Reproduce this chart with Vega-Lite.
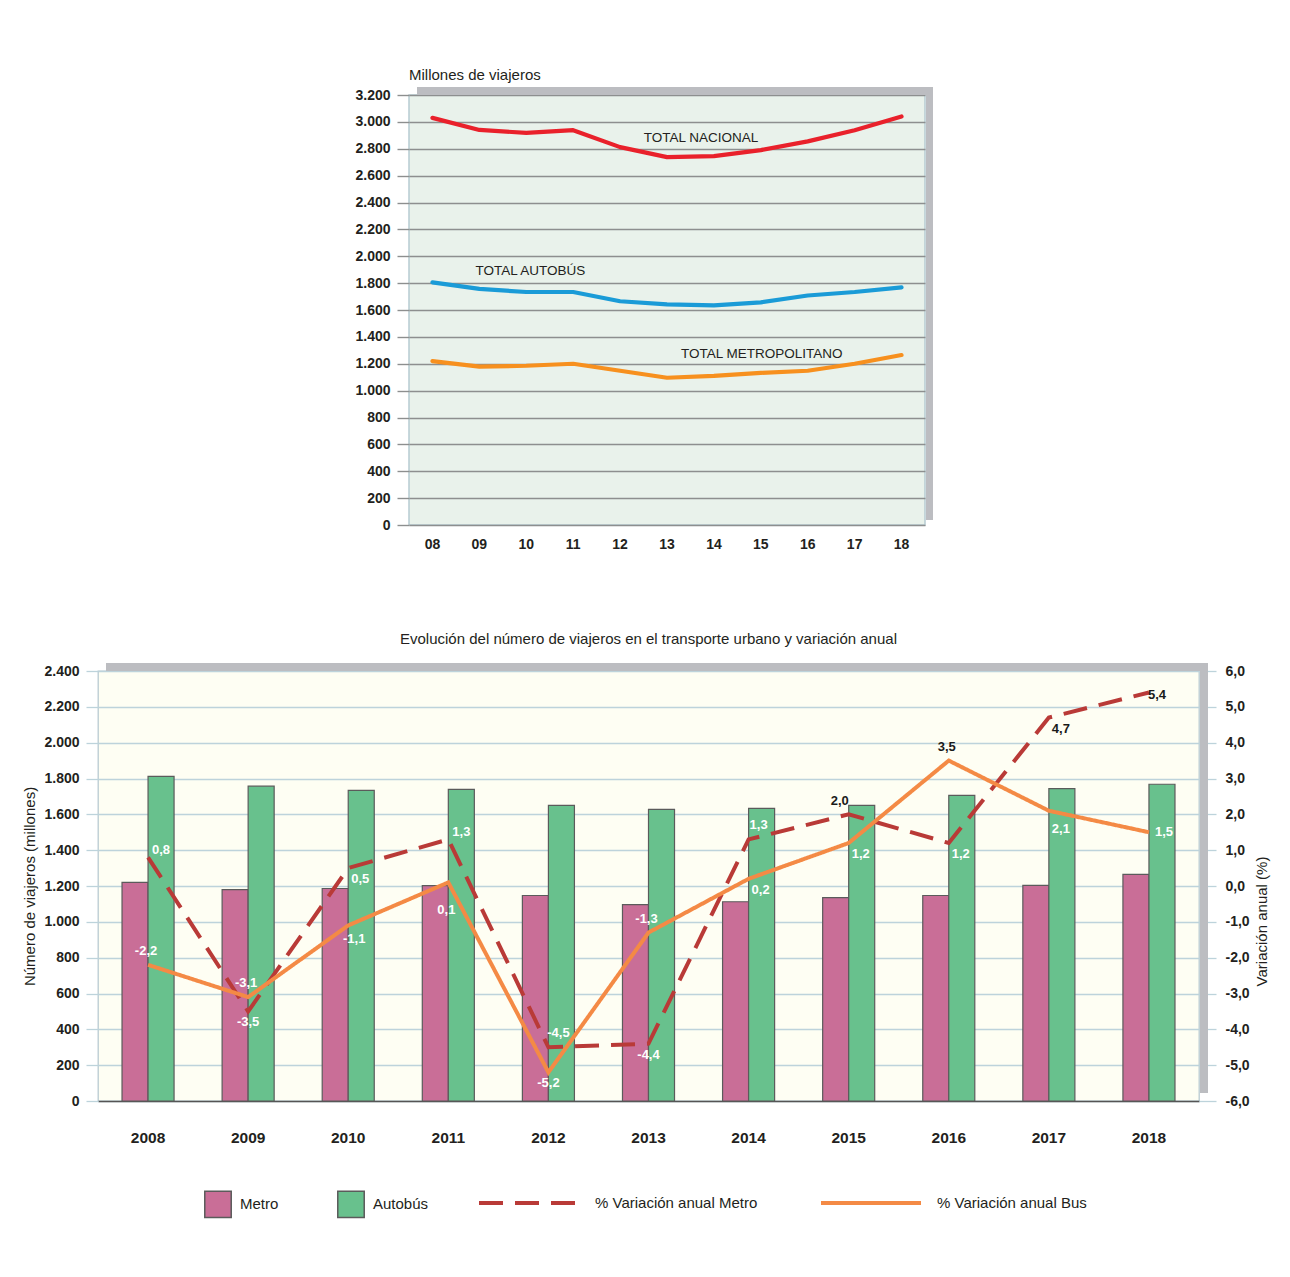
{
  "$schema": "https://vega.github.io/schema/vega-lite/v6.json",
  "background": "white",
  "padding": {"left": 22, "top": 67, "right": 10, "bottom": 10},
  "spacing": 79,
  "datasets": {
    "totales": [
      {"yy": "08", "serie": "TOTAL NACIONAL", "valor": 3030},
      {"yy": "09", "serie": "TOTAL NACIONAL", "valor": 2940},
      {"yy": "10", "serie": "TOTAL NACIONAL", "valor": 2918},
      {"yy": "11", "serie": "TOTAL NACIONAL", "valor": 2938},
      {"yy": "12", "serie": "TOTAL NACIONAL", "valor": 2812},
      {"yy": "13", "serie": "TOTAL NACIONAL", "valor": 2738},
      {"yy": "14", "serie": "TOTAL NACIONAL", "valor": 2745},
      {"yy": "15", "serie": "TOTAL NACIONAL", "valor": 2790},
      {"yy": "16", "serie": "TOTAL NACIONAL", "valor": 2855},
      {"yy": "17", "serie": "TOTAL NACIONAL", "valor": 2938},
      {"yy": "18", "serie": "TOTAL NACIONAL", "valor": 3040},
      {"yy": "08", "serie": "TOTAL AUTOBÚS", "valor": 1806},
      {"yy": "09", "serie": "TOTAL AUTOBÚS", "valor": 1757},
      {"yy": "10", "serie": "TOTAL AUTOBÚS", "valor": 1734},
      {"yy": "11", "serie": "TOTAL AUTOBÚS", "valor": 1734},
      {"yy": "12", "serie": "TOTAL AUTOBÚS", "valor": 1665},
      {"yy": "13", "serie": "TOTAL AUTOBÚS", "valor": 1642},
      {"yy": "14", "serie": "TOTAL AUTOBÚS", "valor": 1635},
      {"yy": "15", "serie": "TOTAL AUTOBÚS", "valor": 1657},
      {"yy": "16", "serie": "TOTAL AUTOBÚS", "valor": 1708},
      {"yy": "17", "serie": "TOTAL AUTOBÚS", "valor": 1734},
      {"yy": "18", "serie": "TOTAL AUTOBÚS", "valor": 1768},
      {"yy": "08", "serie": "TOTAL METROPOLITANO", "valor": 1220},
      {"yy": "09", "serie": "TOTAL METROPOLITANO", "valor": 1178},
      {"yy": "10", "serie": "TOTAL METROPOLITANO", "valor": 1185},
      {"yy": "11", "serie": "TOTAL METROPOLITANO", "valor": 1200},
      {"yy": "12", "serie": "TOTAL METROPOLITANO", "valor": 1148},
      {"yy": "13", "serie": "TOTAL METROPOLITANO", "valor": 1096},
      {"yy": "14", "serie": "TOTAL METROPOLITANO", "valor": 1110},
      {"yy": "15", "serie": "TOTAL METROPOLITANO", "valor": 1132},
      {"yy": "16", "serie": "TOTAL METROPOLITANO", "valor": 1148},
      {"yy": "17", "serie": "TOTAL METROPOLITANO", "valor": 1200},
      {"yy": "18", "serie": "TOTAL METROPOLITANO", "valor": 1265}
    ],
    "viajeros": [
      {"year": "2008", "tipo": "Metro", "valor": 1220},
      {"year": "2009", "tipo": "Metro", "valor": 1180},
      {"year": "2010", "tipo": "Metro", "valor": 1186},
      {"year": "2011", "tipo": "Metro", "valor": 1202},
      {"year": "2012", "tipo": "Metro", "valor": 1147},
      {"year": "2013", "tipo": "Metro", "valor": 1096},
      {"year": "2014", "tipo": "Metro", "valor": 1112},
      {"year": "2015", "tipo": "Metro", "valor": 1135},
      {"year": "2016", "tipo": "Metro", "valor": 1147},
      {"year": "2017", "tipo": "Metro", "valor": 1203},
      {"year": "2018", "tipo": "Metro", "valor": 1265},
      {"year": "2008", "tipo": "Autobús", "valor": 1812},
      {"year": "2009", "tipo": "Autobús", "valor": 1757},
      {"year": "2010", "tipo": "Autobús", "valor": 1734},
      {"year": "2011", "tipo": "Autobús", "valor": 1739},
      {"year": "2012", "tipo": "Autobús", "valor": 1650},
      {"year": "2013", "tipo": "Autobús", "valor": 1628},
      {"year": "2014", "tipo": "Autobús", "valor": 1633},
      {"year": "2015", "tipo": "Autobús", "valor": 1650},
      {"year": "2016", "tipo": "Autobús", "valor": 1706},
      {"year": "2017", "tipo": "Autobús", "valor": 1744},
      {"year": "2018", "tipo": "Autobús", "valor": 1768}
    ],
    "variacion": [
      {"year": "2008", "linea": "% Variación anual Metro", "pct": 0.8},
      {"year": "2009", "linea": "% Variación anual Metro", "pct": -3.5},
      {"year": "2010", "linea": "% Variación anual Metro", "pct": 0.5},
      {"year": "2011", "linea": "% Variación anual Metro", "pct": 1.3},
      {"year": "2012", "linea": "% Variación anual Metro", "pct": -4.5},
      {"year": "2013", "linea": "% Variación anual Metro", "pct": -4.4},
      {"year": "2014", "linea": "% Variación anual Metro", "pct": 1.3},
      {"year": "2015", "linea": "% Variación anual Metro", "pct": 2.0},
      {"year": "2016", "linea": "% Variación anual Metro", "pct": 1.2},
      {"year": "2017", "linea": "% Variación anual Metro", "pct": 4.7},
      {"year": "2018", "linea": "% Variación anual Metro", "pct": 5.4},
      {"year": "2008", "linea": "% Variación anual Bus", "pct": -2.2},
      {"year": "2009", "linea": "% Variación anual Bus", "pct": -3.1},
      {"year": "2010", "linea": "% Variación anual Bus", "pct": -1.1},
      {"year": "2011", "linea": "% Variación anual Bus", "pct": 0.1},
      {"year": "2012", "linea": "% Variación anual Bus", "pct": -5.2},
      {"year": "2013", "linea": "% Variación anual Bus", "pct": -1.3},
      {"year": "2014", "linea": "% Variación anual Bus", "pct": 0.2},
      {"year": "2015", "linea": "% Variación anual Bus", "pct": 1.2},
      {"year": "2016", "linea": "% Variación anual Bus", "pct": 3.5},
      {"year": "2017", "linea": "% Variación anual Bus", "pct": 2.1},
      {"year": "2018", "linea": "% Variación anual Bus", "pct": 1.5}
    ]
  },
  "vconcat": [
    {
      "spacing": 0,
      "hconcat": [
        {
          "width": 256,
          "height": 10,
          "view": {"stroke": null, "fill": null},
          "data": {"values": []},
          "mark": {"type": "point", "opacity": 0},
          "encoding": {}
        },
        {
          "width": 516,
          "height": 430,
          "title": {"text": "Millones de viajeros", "anchor": "start", "frame": "group", "fontSize": 15, "fontWeight": "normal", "font": "Liberation Sans", "color": "#231f20", "offset": 4},
          "view": {"fill": "#e9f2eb", "stroke": "#b7cbd2", "strokeWidth": 1.5},
          "layer": [
            {
              "data": {"values": [{}]},
              "mark": {"type": "rect", "fill": "#bcbdc1", "xOffset": 8, "x2Offset": 8, "yOffset": -8},
              "encoding": {"x": {"value": 0}, "x2": {"value": "width"}, "y": {"value": 0}, "y2": {"value": 0}}
            },
            {
              "data": {"values": [{}]},
              "mark": {"type": "rect", "fill": "#bcbdc1", "xOffset": 1, "x2Offset": 8, "yOffset": -8, "y2Offset": -5},
              "encoding": {"x": {"value": "width"}, "x2": {"value": "width"}, "y": {"value": 0}, "y2": {"value": "height"}}
            },
            {
              "data": {"name": "totales"},
              "mark": {"type": "line", "strokeWidth": 4.2, "strokeJoin": "round", "strokeCap": "round"},
              "encoding": {
                "x": {"field": "yy", "type": "ordinal", "scale": {"type": "band", "paddingInner": 0, "paddingOuter": 0},
                      "axis": {"title": null, "ticks": false, "domain": false, "grid": false, "labelAngle": 0, "labelPadding": 12, "labelFontSize": 14, "labelFontWeight": "bold"}},
                "y": {"field": "valor", "type": "quantitative", "scale": {"domain": [0, 3200], "nice": false},
                      "axis": {"title": null, "values": [0, 200, 400, 600, 800, 1000, 1200, 1400, 1600, 1800, 2000, 2200, 2400, 2600, 2800, 3000, 3200], "tickCount": 40, "format": ",d", "labelOverlap": false, "grid": true, "gridColor": "#8d8f8f", "gridWidth": 1.4, "tickColor": "#8d8f8f", "tickSize": 12, "tickWidth": 1.4, "domain": false, "labelPadding": 7, "labelFontSize": 14, "labelFontWeight": "bold"}},
                "color": {"field": "serie", "type": "nominal", "scale": {"domain": ["TOTAL NACIONAL", "TOTAL AUTOBÚS", "TOTAL METROPOLITANO"], "range": ["#e9212b", "#1a9bd7", "#f7901e"]}, "legend": null}
              }
            },
            {
              "data": {"values": [{}]},
              "mark": {"type": "text", "font": "Liberation Sans", "fontWeight": "normal", "fontSize": 13.5, "color": "#231f20", "dx": -13},
              "encoding": {"x": {"datum": "14", "type": "ordinal"}, "y": {"datum": 2878, "type": "quantitative"}, "text": {"value": "TOTAL NACIONAL"}}
            },
            {
              "data": {"values": [{}]},
              "mark": {"type": "text", "font": "Liberation Sans", "fontWeight": "normal", "fontSize": 13.5, "color": "#231f20", "dx": 4},
              "encoding": {"x": {"datum": "10", "type": "ordinal"}, "y": {"datum": 1887, "type": "quantitative"}, "text": {"value": "TOTAL AUTOBÚS"}}
            },
            {
              "data": {"values": [{}]},
              "mark": {"type": "text", "font": "Liberation Sans", "fontWeight": "normal", "fontSize": 13.5, "color": "#231f20", "dx": 1},
              "encoding": {"x": {"datum": "15", "type": "ordinal"}, "y": {"datum": 1275, "type": "quantitative"}, "text": {"value": "TOTAL METROPOLITANO"}}
            }
          ]
        }
      ]
    },
    {
      "width": 1101,
      "height": 430,
      "title": {"text": "Evolución del número de viajeros en el transporte urbano y variación anual", "anchor": "middle", "frame": "group", "fontSize": 15, "fontWeight": "normal", "font": "Liberation Sans", "color": "#231f20", "offset": 16},
      "view": {"fill": "#fefef3", "stroke": "#b9cbd2", "strokeWidth": 1.3},
      "resolve": {"scale": {"y": "independent"}},
      "layer": [
        {
          "data": {"values": [{}]},
          "mark": {"type": "rect", "fill": "#bcbdc1", "xOffset": 8, "x2Offset": 8, "yOffset": -8},
          "encoding": {"x": {"value": 0}, "x2": {"value": "width"}, "y": {"value": 0}, "y2": {"value": 0}}
        },
        {
          "data": {"values": [{}]},
          "mark": {"type": "rect", "fill": "#bcbdc1", "xOffset": 1, "x2Offset": 9, "yOffset": -8, "y2Offset": -8},
          "encoding": {"x": {"value": "width"}, "x2": {"value": "width"}, "y": {"value": 0}, "y2": {"value": "height"}}
        },
        {
          "data": {"name": "viajeros"},
          "mark": {"type": "bar", "stroke": "#5b5b5b", "strokeWidth": 1.2},
          "encoding": {
            "x": {"field": "year", "type": "ordinal", "scale": {"type": "band", "paddingInner": 0.48, "paddingOuter": 0.24},
                  "axis": {"title": null, "ticks": false, "grid": false, "labelAngle": 0, "domainColor": "#555555", "domainWidth": 1.5, "labelPadding": 29, "labelFontSize": 15.5, "labelFontWeight": "bold"}},
            "xOffset": {"field": "tipo", "type": "nominal", "scale": {"domain": ["Metro", "Autobús"], "paddingInner": 0, "paddingOuter": 0}},
            "y": {"field": "valor", "type": "quantitative", "scale": {"domain": [0, 2400], "nice": false},
                  "axis": {"title": "Número de viajeros (millones)", "values": [0, 200, 400, 600, 800, 1000, 1200, 1400, 1600, 1800, 2000, 2200, 2400], "tickCount": 40, "format": ",d", "labelOverlap": false, "grid": true, "gridColor": "#bdd3db", "gridWidth": 1.3, "tickColor": "#bdd3db", "tickSize": 12, "tickWidth": 1.3, "domain": false, "labelPadding": 7, "labelFontSize": 14, "labelFontWeight": "bold", "titleFont": "Liberation Sans", "titleFontSize": 15, "titleFontWeight": "normal", "titleColor": "#231f20", "titlePadding": 6}},
            "fill": {"field": "tipo", "type": "nominal", "scale": {"domain": ["Metro", "Autobús"], "range": ["#c96e97", "#68c18d"]},
                     "legend": {"orient": "none", "legendX": 106, "legendY": 1095, "direction": "horizontal", "title": null, "symbolType": "square", "symbolSize": 700, "symbolStrokeColor": "#5b5b5b", "symbolStrokeWidth": 1.5, "symbolOpacity": 1, "labelOffset": 8, "columnPadding": 55, "labelFontSize": 15, "labelLimit": 400, "padding": 0}}
          }
        },
        {
          "data": {"name": "variacion"},
          "encoding": {
            "x": {"field": "year", "type": "ordinal"},
            "y": {"field": "pct", "type": "quantitative", "scale": {"domain": [-6, 6], "nice": false}}
          },
          "layer": [
            {
              "mark": {"type": "line", "strokeWidth": 4},
              "encoding": {
                "y": {"field": "pct", "type": "quantitative", "scale": {"domain": [-6, 6], "nice": false},
                      "axis": {"orient": "right", "title": "Variación anual (%)", "values": [-6, -5, -4, -3, -2, -1, 0, 1, 2, 3, 4, 5, 6], "tickCount": 40, "format": ".1f", "labelOverlap": false, "grid": false, "domain": false, "tickColor": "#bdd3db", "tickSize": 17, "tickWidth": 1.3, "labelPadding": 9, "labelFontSize": 14, "labelFontWeight": "bold", "titleAngle": 270, "titleX": 62, "titleY": 250, "titleBaseline": "middle", "titleAlign": "center", "titleFont": "Liberation Sans", "titleFontSize": 15, "titleFontWeight": "normal", "titleColor": "#231f20"}},
                "stroke": {"field": "linea", "type": "nominal", "scale": {"domain": ["% Variación anual Metro", "% Variación anual Bus"], "range": ["#b93a37", "#f48a45"]},
                           "legend": {"orient": "none", "legendX": 379, "legendY": 1056, "direction": "horizontal", "title": null, "symbolType": "stroke", "symbolSize": 10000, "symbolStrokeWidth": 4, "labelOffset": 14, "columnPadding": 55, "labelFontSize": 15, "labelLimit": 400, "padding": 0}},
                "strokeDash": {"field": "linea", "type": "nominal", "scale": {"domain": ["% Variación anual Metro", "% Variación anual Bus"], "range": [[24, 12], [1, 0]]},
                           "legend": {"orient": "none", "legendX": 379, "legendY": 1056, "direction": "horizontal", "title": null, "symbolType": "stroke", "symbolSize": 10000, "symbolStrokeWidth": 4, "labelOffset": 14, "columnPadding": 55, "labelFontSize": 15, "labelLimit": 400, "padding": 0}}
              }
            },
            {
              "transform": [{"filter": "(test(/Metro/, datum.linea) && indexof(['2008','2011'], datum.year) >= 0)"}],
              "mark": {"type": "text", "dx": 13, "dy": -7},
              "encoding": {"text": {"field": "pct", "type": "quantitative", "format": ".1f"}, "color": {"value": "white"}}
            },
            {
              "transform": [{"filter": "(test(/Metro/, datum.linea) && indexof(['2010','2016','2017'], datum.year) >= 0) || (test(/Bus/, datum.linea) && indexof(['2014','2015'], datum.year) >= 0)"}],
              "mark": {"type": "text", "dx": 12, "dy": 11},
              "encoding": {"text": {"field": "pct", "type": "quantitative", "format": ".1f"}, "color": {"condition": {"test": "datum.year == '2017'", "value": "#1a1a1a"}, "value": "white"}}
            },
            {
              "transform": [{"filter": "(test(/Metro/, datum.linea) && indexof(['2012','2014'], datum.year) >= 0)"}],
              "mark": {"type": "text", "dx": 10, "dy": -14},
              "encoding": {"text": {"field": "pct", "type": "quantitative", "format": ".1f"}, "color": {"value": "white"}}
            },
            {
              "transform": [{"filter": "(test(/Metro/, datum.linea) && indexof(['2009','2013'], datum.year) >= 0) || (test(/Bus/, datum.linea) && datum.year == '2012')"}],
              "mark": {"type": "text", "dx": 0, "dy": 11},
              "encoding": {"text": {"field": "pct", "type": "quantitative", "format": ".1f"}, "color": {"value": "white"}}
            },
            {
              "transform": [{"filter": "(test(/Metro/, datum.linea) && datum.year == '2015')"}],
              "mark": {"type": "text", "dx": -9, "dy": -13},
              "encoding": {"text": {"field": "pct", "type": "quantitative", "format": ".1f"}, "color": {"value": "#1a1a1a"}}
            },
            {
              "transform": [{"filter": "(test(/Metro/, datum.linea) && datum.year == '2018')"}],
              "mark": {"type": "text", "dx": 8, "dy": 2},
              "encoding": {"text": {"field": "pct", "type": "quantitative", "format": ".1f"}, "color": {"value": "#1a1a1a"}}
            },
            {
              "transform": [{"filter": "(test(/Bus/, datum.linea) && datum.year == '2018')"}],
              "mark": {"type": "text", "dx": 15, "dy": 0},
              "encoding": {"text": {"field": "pct", "type": "quantitative", "format": ".1f"}, "color": {"value": "white"}}
            },
            {
              "transform": [{"filter": "(test(/Bus/, datum.linea) && indexof(['2008','2009','2013','2016'], datum.year) >= 0)"}],
              "mark": {"type": "text", "dx": -2, "dy": -14},
              "encoding": {"text": {"field": "pct", "type": "quantitative", "format": ".1f"}, "color": {"condition": {"test": "datum.year == '2016'", "value": "#1a1a1a"}, "value": "white"}}
            },
            {
              "transform": [{"filter": "(test(/Bus/, datum.linea) && datum.year == '2010')"}],
              "mark": {"type": "text", "dx": 6, "dy": 14},
              "encoding": {"text": {"field": "pct", "type": "quantitative", "format": ".1f"}, "color": {"value": "white"}}
            },
            {
              "transform": [{"filter": "(test(/Bus/, datum.linea) && datum.year == '2011')"}],
              "mark": {"type": "text", "dx": -2, "dy": 28},
              "encoding": {"text": {"field": "pct", "type": "quantitative", "format": ".1f"}, "color": {"value": "white"}}
            },
            {
              "transform": [{"filter": "(test(/Bus/, datum.linea) && datum.year == '2017')"}],
              "mark": {"type": "text", "dx": 12, "dy": 18},
              "encoding": {"text": {"field": "pct", "type": "quantitative", "format": ".1f"}, "color": {"value": "white"}}
            }
          ]
        }
      ]
    }
  ],
  "config": {
    "locale": {"number": {"decimal": ",", "thousands": ".", "grouping": [3], "currency": ["", " €"], "minus": "-"}},
    "font": "Liberation Sans",
    "axis": {"labelFont": "Liberation Sans", "labelColor": "#231f20"},
    "legend": {"labelFont": "Liberation Sans", "labelFontSize": 15, "labelColor": "#231f20"},
    "text": {"font": "Liberation Sans", "fontWeight": "bold", "fontSize": 13}
  }
}
